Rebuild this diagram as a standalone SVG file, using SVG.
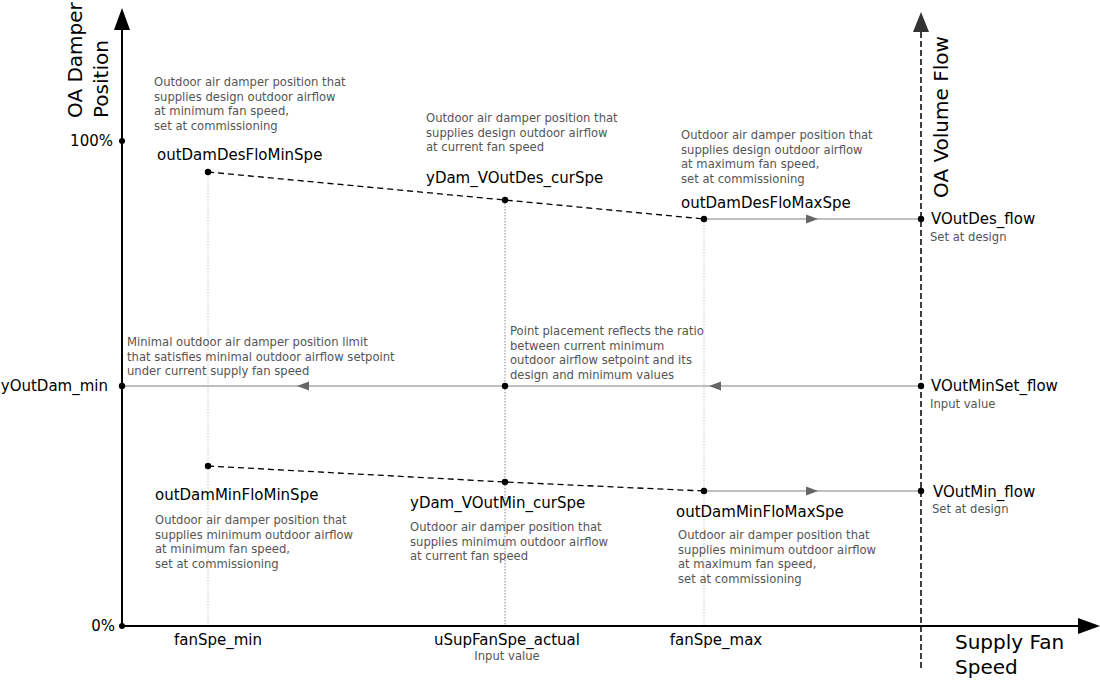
<svg xmlns="http://www.w3.org/2000/svg" width="1100" height="680" viewBox="0 0 1100 680">
<style>
text{font-family:"DejaVu Sans","Liberation Sans",sans-serif}
.lbl{font-size:15px;fill:#000}
.ax{font-size:20px;fill:#000}
.tick{font-size:15px;fill:#000}
.desc{font-size:11.6px;fill:#555}
.note{font-size:11.6px;fill:#555}
.guide{stroke:#c8c8c8;stroke-width:1;stroke-dasharray:1.5,1.5;fill:none}
.guide2{stroke:#888;stroke-width:1;stroke-dasharray:1.5,1.5;fill:none}
.conn{stroke:#aaa;stroke-width:1.4;fill:none}
.dash{stroke:#000;stroke-width:1.3;stroke-dasharray:6,4;fill:none}
.dot{fill:#000}
.tri{fill:#666}
</style>
<rect width="1100" height="680" fill="#fff"/>
<g id="guides">
<line class="guide" x1="208" y1="172" x2="208" y2="626"/>
<line class="guide2" x1="505" y1="200" x2="505" y2="626"/>
<line class="guide" x1="704" y1="219" x2="704" y2="626"/>
</g>
<g id="axes">
<line x1="122" y1="626" x2="122" y2="26" stroke="#000" stroke-width="2"/>
<polygon points="122,8 114,30 130,30" fill="#000"/>
<line x1="122" y1="626" x2="1082" y2="626" stroke="#000" stroke-width="2"/>
<polygon points="1100,626 1078,618 1078,634" fill="#000"/>
<line x1="921" y1="668" x2="921" y2="28" stroke="#000" stroke-width="1.5" stroke-dasharray="6,3"/>
<polygon points="921,12 913,32 929,32" fill="#333"/>
<text class="ax" transform="translate(82,118) rotate(-90)">OA Damper</text>
<text class="ax" transform="translate(108,118) rotate(-90)">Position</text>
<text class="ax" transform="translate(948,198) rotate(-90)">OA Volume Flow</text>
<text class="ax" x="955" y="649">Supply Fan</text>
<text class="ax" x="955" y="674">Speed</text>
<text class="tick" x="113" y="146" text-anchor="end">100%</text>
<text class="tick" x="115" y="631" text-anchor="end">0%</text>
<text class="tick" x="108" y="391" text-anchor="end">yOutDam_min</text>
<text class="tick" x="218" y="645" text-anchor="middle">fanSpe_min</text>
<text class="tick" x="507" y="645" text-anchor="middle">uSupFanSpe_actual</text>
<text class="note" x="507" y="660" text-anchor="middle">Input value</text>
<text class="tick" x="716" y="645" text-anchor="middle">fanSpe_max</text>
</g>
<g id="connectors">
<polyline class="dash" points="208,172 505,200 704,219"/>
<polyline class="dash" points="208,466 505,482 704,491"/>
<line class="conn" x1="704" y1="219" x2="921" y2="219"/>
<polygon class="tri" points="818,219 806,214.5 806,223.5"/>
<line class="conn" x1="704" y1="491" x2="921" y2="491"/>
<polygon class="tri" points="818,491 806,486.5 806,495.5"/>
<line class="conn" x1="921" y1="386" x2="122" y2="386"/>
<polygon class="tri" points="709,386 721,381.5 721,390.5"/>
<polygon class="tri" points="297,386 309,381.5 309,390.5"/>
</g>
<g id="pt100"><circle class="dot" cx="122" cy="141" r="3"/></g>
<g id="pt0"><circle class="dot" cx="122" cy="626" r="3"/></g>
<g id="outDamDesFloMinSpe">
<circle class="dot" cx="208" cy="172" r="3.2"/>
<text class="lbl" x="157" y="160">outDamDesFloMinSpe</text>
<text class="desc" x="154" y="86">Outdoor air damper position that</text>
<text class="desc" x="154" y="100.5">supplies design outdoor airflow</text>
<text class="desc" x="154" y="115">at minimum fan speed,</text>
<text class="desc" x="154" y="129.5">set at commissioning</text>
</g>
<g id="yDam_VOutDes_curSpe">
<circle class="dot" cx="505" cy="200" r="3.2"/>
<text class="lbl" x="426" y="183">yDam_VOutDes_curSpe</text>
<text class="desc" x="426" y="122">Outdoor air damper position that</text>
<text class="desc" x="426" y="136.5">supplies design outdoor airflow</text>
<text class="desc" x="426" y="151">at current fan speed</text>
</g>
<g id="outDamDesFloMaxSpe">
<circle class="dot" cx="704" cy="219" r="3.2"/>
<text class="lbl" x="681" y="208">outDamDesFloMaxSpe</text>
<text class="desc" x="681" y="139">Outdoor air damper position that</text>
<text class="desc" x="681" y="153.5">supplies design outdoor airflow</text>
<text class="desc" x="681" y="168">at maximum fan speed,</text>
<text class="desc" x="681" y="182.5">set at commissioning</text>
</g>
<g id="VOutDes_flow">
<circle class="dot" cx="921" cy="219" r="3.2"/>
<text class="lbl" x="931" y="224">VOutDes_flow</text>
<text class="note" x="930" y="241">Set at design</text>
</g>
<g id="yOutDam_min">
<circle class="dot" cx="122" cy="386" r="3.2"/>
<text class="desc" x="127" y="346">Minimal outdoor air damper position limit</text>
<text class="desc" x="127" y="360.5">that satisfies minimal outdoor airflow setpoint</text>
<text class="desc" x="127" y="375">under current supply fan speed</text>
</g>
<g id="ratioPoint">
<circle class="dot" cx="505" cy="386" r="3.2"/>
<text class="desc" x="510" y="335">Point placement reflects the ratio</text>
<text class="desc" x="510" y="349.5">between current minimum</text>
<text class="desc" x="510" y="364">outdoor airflow setpoint and its</text>
<text class="desc" x="510" y="378.5">design and minimum values</text>
</g>
<g id="VOutMinSet_flow">
<circle class="dot" cx="921" cy="386" r="3.2"/>
<text class="lbl" x="931" y="391">VOutMinSet_flow</text>
<text class="note" x="930" y="408">Input value</text>
</g>
<g id="outDamMinFloMinSpe">
<circle class="dot" cx="208" cy="466" r="3.2"/>
<text class="lbl" x="155" y="500">outDamMinFloMinSpe</text>
<text class="desc" x="155" y="524">Outdoor air damper position that</text>
<text class="desc" x="155" y="538.5">supplies minimum outdoor airflow</text>
<text class="desc" x="155" y="553">at minimum fan speed,</text>
<text class="desc" x="155" y="567.5">set at commissioning</text>
</g>
<g id="yDam_VOutMin_curSpe">
<circle class="dot" cx="505" cy="482" r="3.2"/>
<text class="lbl" x="410" y="508">yDam_VOutMin_curSpe</text>
<text class="desc" x="410" y="531">Outdoor air damper position that</text>
<text class="desc" x="410" y="545.5">supplies minimum outdoor airflow</text>
<text class="desc" x="410" y="560">at current fan speed</text>
</g>
<g id="outDamMinFloMaxSpe">
<circle class="dot" cx="704" cy="491" r="3.2"/>
<text class="lbl" x="676" y="517">outDamMinFloMaxSpe</text>
<text class="desc" x="678" y="539">Outdoor air damper position that</text>
<text class="desc" x="678" y="553.5">supplies minimum outdoor airflow</text>
<text class="desc" x="678" y="568">at maximum fan speed,</text>
<text class="desc" x="678" y="582.5">set at commissioning</text>
</g>
<g id="VOutMin_flow">
<circle class="dot" cx="921" cy="491" r="3.2"/>
<text class="lbl" x="933" y="497">VOutMin_flow</text>
<text class="note" x="932" y="513">Set at design</text>
</g>
</svg>
